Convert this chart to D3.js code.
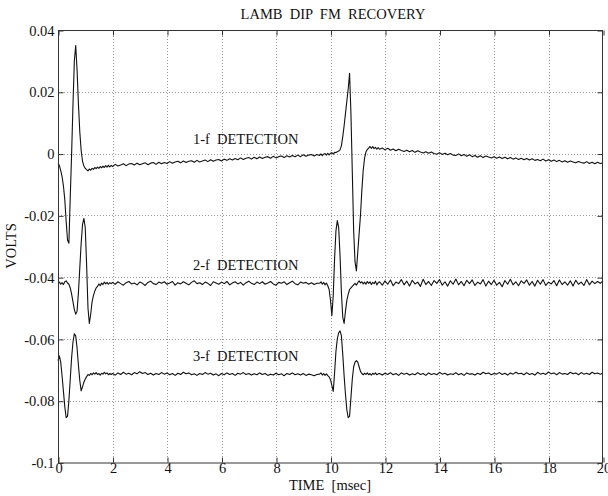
<!DOCTYPE html>
<html>
<head>
<meta charset="utf-8">
<script src="https://cdn.jsdelivr.net/npm/d3@7"></script>
<style>
  html, body { margin: 0; padding: 0; background: #fff; }
  svg { display: block; }
  text { font-family: "Liberation Serif", "Times New Roman", serif; fill: #111; white-space: pre; }
</style>
</head>
<body>
<svg id="chart" width="608" height="496"></svg>
<script>
// ---- sampling grid of the recorded traces: [start msec, step msec, count]
const sampleSegments = [[0, 0.05, 40], [2.0, 0.1, 76], [9.6, 0.05, 44], [11.8, 0.1, 83]];

// ---- trace values in millivolts, one per sample
const detect1f_mV = [
  // 0.00 - 1.95
  -3.2,-3.8,-5.5,-7.5,-10.5,-15,-22,-28,-29,-14,0,16,30,35,27,16,7,1,-2.5,-4,
  -4.8,-5.2,-5.6,-5.0,-5.4,-4.8,-5.1,-4.5,-4.9,-4.4,-4.8,-4.2,-4.6,-4.1,-4.5,-3.9,-4.4,-3.8,-4.3,-3.8,
  // 2.0 - 9.5
  -4.2,-3.5,-4.0,-3.7,-3.3,-3.9,-3.4,-3.2,-3.7,-3.1,
  -3.6,-3.3,-3.0,-3.6,-3.1,-2.9,-3.5,-2.8,-3.3,-2.9,
  -3.2,-2.6,-3.1,-2.7,-2.5,-3.0,-2.4,-2.9,-2.5,-2.3,
  -2.8,-2.2,-2.7,-2.4,-2.1,-2.6,-2.0,-2.5,-2.1,-1.9,
  -2.4,-1.8,-2.2,-1.7,-2.1,-1.6,-2.0,-1.4,-1.9,-1.5,
  -1.3,-1.8,-1.2,-1.7,-1.1,-1.6,-1.2,-1.0,-1.5,-0.9,
  -1.4,-1.0,-0.8,-1.3,-0.7,-1.1,-0.6,-1.0,-0.5,-1.0,
  -0.4,-0.9,-0.5,-0.3,-0.8,-0.3,
  // 9.60 - 11.75
  -0.6,-0.1,-0.7,-0.2,0.0,-0.5,0.1,-0.4,
  0.1,0.3,-0.2,0.4,0.3,0.6,0.8,1.2,2.5,5.5,9,13,17,21,26,13,-6,-25,-35,-38,
  -32,-26,-20,-12,-5.5,-1.5,0.5,1.3,1.8,2.3,1.7,2.3,1.6,2.0,1.4,1.9,
  // 11.8 - 20.0
  1.4,1.8,1.2,1.7,1.1,1.5,0.9,1.4,1.0,0.7,
  1.1,0.6,1.0,0.4,0.9,0.5,0.2,0.6,0.1,0.5,
  0.0,-0.2,0.3,-0.3,0.1,-0.4,0.0,-0.5,-0.6,-0.1,
  -0.7,-0.3,-0.9,-0.4,-1.0,-0.6,-1.2,-0.7,-1.3,-0.8,
  -1.1,-1.4,-1.0,-1.5,-1.1,-1.6,-1.2,-1.7,-1.3,-1.8,
  -1.4,-1.9,-1.5,-2.0,-1.6,-2.1,-1.7,-2.2,-1.9,-2.3,
  -1.8,-2.4,-2.0,-2.5,-2.1,-2.6,-2.2,-2.7,-2.3,-2.8,
  -2.4,-2.7,-3.0,-2.6,-2.9,-3.1,-2.6,-3.2,-2.8,-3.3,
  -2.8,-3.2,-3.0
];

const detect2f_mV = [
  // 0.00 - 1.95
  -42.0,-41.6,-42.3,-41.8,-42.4,-41.5,-41.2,-41.9,-42.3,-43.5,
  -45.5,-48,-50.5,-52,-51,-45,-37,-29,-23,-21,
  -24,-36,-50,-55,-52,-48,-46,-44.5,-43.5,-43,
  -42.2,-42.8,-41.9,-42.4,-41.6,-42.2,-41.7,-42.3,-41.8,-42.1,
  // 2.0 - 9.5
  -41.7,-42.3,-41.5,-42.1,-42.6,-41.8,-41.4,-42.2,-41.9,-42.5,
  -41.6,-42.0,-42.7,-41.7,-41.3,-42.1,-42.4,-41.6,-42.0,-41.5,
  -42.3,-41.9,-41.4,-42.6,-41.8,-42.2,-41.5,-42.0,-42.5,-41.7,
  -41.2,-42.1,-41.8,-42.4,-41.6,-42.0,-42.7,-41.5,-41.9,-42.3,
  -41.6,-42.1,-41.4,-42.5,-41.9,-41.5,-42.2,-41.7,-42.6,-41.8,
  -41.3,-42.0,-42.4,-41.6,-42.1,-41.5,-42.3,-41.9,-41.4,-42.2,
  -42.6,-41.7,-42.0,-41.5,-42.4,-41.8,-41.3,-42.1,-42.5,-41.6,
  -42.0,-41.7,-42.3,-41.8,-42.4,-42.0,
  // 9.60 - 11.75
  -42.0,-41.5,-42.3,-41.7,-42.5,-41.9,-42.8,-44,
  -47.5,-52.5,-46,-34,-25,-21.7,-24,-33,-45,-53,-55,-51,-47.5,-45.5,-44,-43.5,-43,-42.5,-42.0,-42.6,
  -41.8,-41.2,-41.9,-41.5,-42.2,-41.6,-42.3,-41.4,-42.0,-41.5,-42.4,-41.7,-42.1,-41.3,-42.5,-41.8,
  // 11.8 - 20.0
  -41.5,-42.6,-41.2,-42.3,-40.9,-42.8,-41.6,-42.1,-40.8,-42.5,
  -41.3,-42.9,-41.0,-42.2,-41.6,-43.0,-40.7,-42.4,-41.4,-42.7,
  -41.1,-42.0,-40.8,-42.6,-41.5,-42.9,-41.2,-42.3,-40.6,-42.5,
  -41.4,-42.8,-41.0,-42.1,-40.9,-42.7,-41.6,-42.2,-40.8,-42.9,
  -41.3,-42.4,-41.0,-42.6,-41.7,-43.1,-41.1,-42.3,-40.7,-42.5,
  -41.5,-42.8,-41.2,-42.0,-40.9,-42.6,-41.4,-42.9,-41.0,-42.3,
  -40.8,-42.7,-41.6,-42.2,-41.1,-42.8,-40.9,-42.4,-41.5,-42.6,
  -41.2,-42.9,-41.0,-42.3,-41.6,-42.7,-40.8,-42.5,-41.3,-42.1,
  -41.4,-42.0,-41.2
];

const detect3f_mV = [
  // 0.00 - 1.95
  -67,-65.5,-67.5,-72,-77,-82,-85.5,-85,-80,-73,
  -66,-61,-58.3,-59,-63,-68.5,-73.5,-76.8,-75.5,-74,
  -73,-72.2,-71.5,-71.8,-71.2,-71.6,-71.0,-71.4,-70.9,-71.5,
  -71.2,-71.7,-71.1,-71.4,-70.8,-71.3,-71.0,-71.6,-71.2,-71.5,
  // 2.0 - 9.5
  -71.2,-71.7,-71.0,-71.5,-70.8,-71.4,-71.1,-71.6,-70.9,-71.3,
  -70.6,-71.2,-70.9,-71.5,-71.1,-71.7,-71.2,-71.5,-70.9,-71.4,
  -71.0,-71.6,-71.2,-71.8,-71.1,-71.5,-70.8,-71.3,-71.0,-71.6,
  -71.3,-71.8,-71.2,-71.5,-70.9,-71.4,-71.1,-71.7,-71.3,-71.9,
  -71.2,-71.6,-71.0,-71.5,-71.2,-71.8,-71.1,-71.4,-70.9,-71.5,
  -71.2,-71.7,-71.3,-71.6,-71.0,-71.5,-71.2,-71.8,-71.4,-71.7,
  -71.1,-71.6,-71.3,-71.9,-71.2,-71.5,-71.0,-71.6,-71.3,-71.7,
  -71.2,-71.8,-71.4,-71.6,-71.9,-71.5,
  // 9.60 - 11.75
  -71.4,-71.0,-71.7,-71.2,-71.8,-71.3,-71.9,-72.3,
  -73.2,-75.0,-77.0,-71.0,-64.0,-60.0,-58.0,-57.4,-59.0,-65.0,-72.0,-78.0,-83.0,-85.5,-85.0,-79.0,-73.0,-69.0,-67.5,-67.0,
  -67.5,-69.0,-70.5,-71.2,-71.6,-71.1,-71.5,-71.0,-71.6,-71.2,-71.7,-71.1,-71.5,-71.0,-71.6,-71.3,
  // 11.8 - 20.0
  -71.2,-71.7,-71.1,-71.5,-70.9,-71.6,-71.2,-71.8,-71.0,-71.4,
  -71.1,-71.7,-71.3,-71.6,-70.9,-71.5,-71.2,-71.8,-71.0,-71.5,
  -71.2,-71.6,-70.8,-71.4,-71.1,-71.7,-71.3,-71.5,-70.9,-71.6,
  -71.2,-71.8,-71.0,-71.4,-71.3,-71.7,-71.1,-71.5,-70.8,-71.3,
  -71.0,-71.6,-71.2,-71.4,-70.9,-71.5,-71.1,-71.7,-71.0,-71.4,
  -70.8,-71.3,-71.1,-71.6,-70.9,-71.5,-71.2,-71.7,-70.8,-71.4,
  -71.1,-71.5,-70.7,-71.3,-71.0,-71.6,-70.9,-71.4,-71.2,-71.5,
  -70.8,-71.3,-71.0,-71.6,-70.9,-71.4,-71.1,-71.5,-70.8,-71.3,
  -71.0,-71.4,-71.1
];

const seriesNames = ["1-f  DETECTION", "2-f  DETECTION", "3-f  DETECTION"];
const xTickValues = [0, 2, 4, 6, 8, 10, 12, 14, 16, 18, 20];
const xTickLabels = ["0", "2", "4", "6", "8", "10", "12", "14", "16", "18", "20"];
const yTickValues = [0.04, 0.02, 0, -0.02, -0.04, -0.06, -0.08, -0.1];
const yTickLabels = ["0.04", "0.02", "0", "-0.02", "-0.04", "-0.06", "-0.08", "-0.1"];
const titleText = "LAMB  DIP  FM  RECOVERY";
const xLabelText = "TIME  [msec]";
const yLabelText = "VOLTS";

// ---- layout
const FS = 14.5;
const svg = d3.select("#chart");
const L = 58, R = 603, T = 30, B = 462.5;
const x = d3.scaleLinear().domain([0, 20]).range([L, R]);
const y = d3.scaleLinear().domain([-0.1, 0.04]).range([B, T]);

const times = sampleSegments.flatMap(([s, st, n]) => d3.range(n).map(i => +(s + i * st).toFixed(2)));

svg.append("rect").attr("width", 608).attr("height", 496).attr("fill", "#fff");

// grid
const grid = svg.append("g").attr("stroke", "#9a9a9a").attr("stroke-width", 1).attr("stroke-dasharray", "1,2");
grid.selectAll("line.gx").data(xTickValues.slice(1, -1)).join("line")
  .attr("x1", d => Math.round(x(d)) + 0.5).attr("x2", d => Math.round(x(d)) + 0.5)
  .attr("y1", T).attr("y2", B);
grid.selectAll("line.gy").data(yTickValues.slice(1, -1)).join("line")
  .attr("y1", d => Math.round(y(d)) + 0.5).attr("y2", d => Math.round(y(d)) + 0.5)
  .attr("x1", L).attr("x2", R);

// traces
const line = d3.line().x((d, i) => x(times[i])).y(d => y(d / 1000));
svg.append("g").selectAll("path").data([detect1f_mV, detect2f_mV, detect3f_mV]).join("path")
  .attr("d", d => line(d)).attr("fill", "none").attr("stroke", "#111").attr("stroke-width", 1.1)
  .attr("stroke-linejoin", "round");

// frame + ticks (inward)
svg.append("rect").attr("x", L + 0.5).attr("y", T + 0.5).attr("width", R - L - 1).attr("height", B - T)
  .attr("fill", "none").attr("stroke", "#333").attr("stroke-width", 1);

const xAxisB = d3.axisBottom(x).tickValues(xTickValues).tickFormat((d, i) => xTickLabels[i]).tickSizeInner(-5).tickSizeOuter(0).tickPadding(9);
const gxb = svg.append("g").attr("transform", `translate(0.5,${B})`).call(xAxisB);
const xAxisT = d3.axisTop(x).tickValues(xTickValues).tickFormat("").tickSizeInner(-5).tickSizeOuter(0);
const gxt = svg.append("g").attr("transform", `translate(0.5,${T + 0.5})`).call(xAxisT);
const yAxisL = d3.axisLeft(y).tickValues(yTickValues).tickFormat((d, i) => yTickLabels[i]).tickSizeInner(-5).tickSizeOuter(0).tickPadding(9);
const gyl = svg.append("g").attr("transform", `translate(${L + 0.5},0.5)`).call(yAxisL);
const yAxisR = d3.axisRight(y).tickValues(yTickValues).tickFormat("").tickSizeInner(-5).tickSizeOuter(0);
const gyr = svg.append("g").attr("transform", `translate(${R - 0.5},0.5)`).call(yAxisR);
[gxb, gxt, gyl, gyr].forEach(g => {
  g.select(".domain").remove();
  g.selectAll("line").attr("stroke", "#333");
  g.selectAll("text").attr("font-family", "Liberation Serif, serif").attr("font-size", FS).attr("fill", "#111");
});
gxb.selectAll("text").attr("dy", "0.71em").attr("y", 0.5);
gyl.selectAll("text").attr("x", -4);

// labels
svg.append("text").attr("x", 333).attr("y", 19).attr("text-anchor", "middle").attr("font-size", FS).text(titleText);
svg.append("text").attr("x", 330).attr("y", 490).attr("text-anchor", "middle").attr("font-size", FS).text(xLabelText);
svg.append("text").attr("transform", "translate(16,246) rotate(-90)").attr("text-anchor", "middle").attr("font-size", FS).text(yLabelText);

const labelPos = [[4.95, 0.0032], [4.95, -0.0376], [4.95, -0.067]];
svg.append("g").selectAll("text").data(seriesNames).join("text")
  .attr("x", (d, i) => x(labelPos[i][0])).attr("y", (d, i) => y(labelPos[i][1]))
  .attr("font-size", FS).text(d => d);
</script>
</body>
</html>
